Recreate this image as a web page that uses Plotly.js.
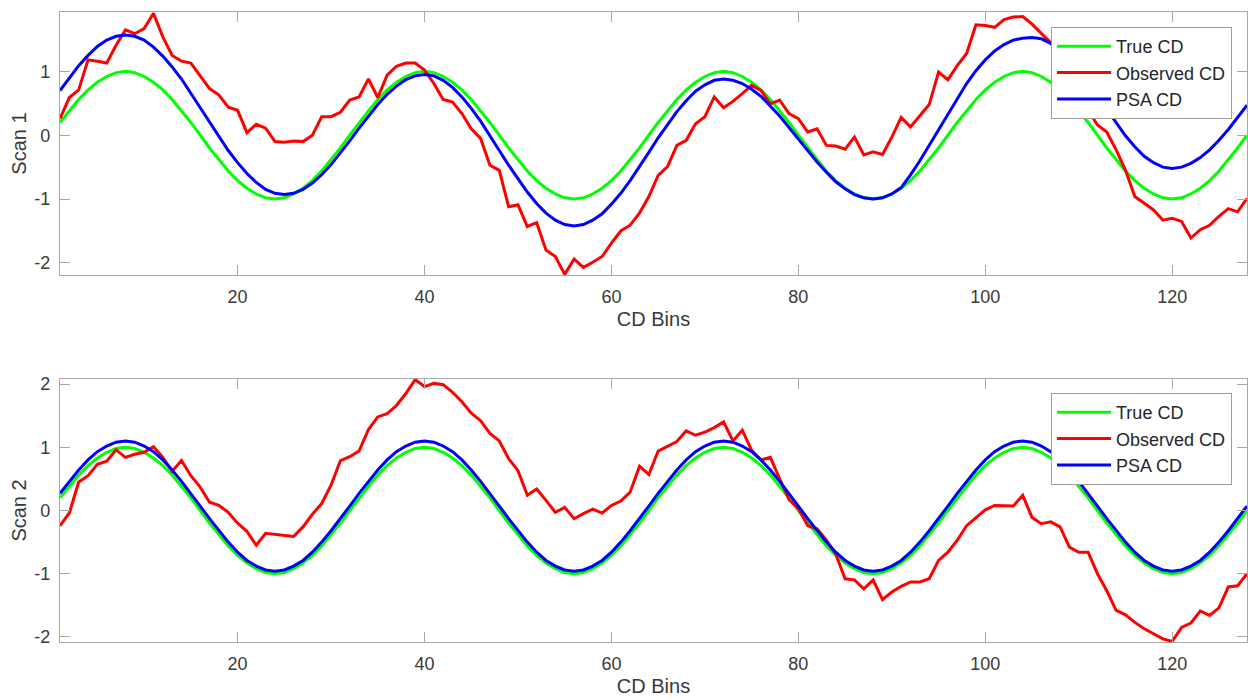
<!DOCTYPE html>
<html>
<head>
<meta charset="utf-8">
<script src="https://cdn.plot.ly/plotly-3.0.1.min.js"></script>
<style>html,body{margin:0;padding:0;background:#fff;}#chart{width:1248px;height:700px;}</style>
</head>
<body>
<div id="chart"></div>
<script>
var bins = [1,2,3,4,5,6,7,8,9,10,11,12,13,14,15,16,17,18,19,20,21,22,23,24,25,26,27,28,29,30,31,32,
33,34,35,36,37,38,39,40,41,42,43,44,45,46,47,48,49,50,51,52,53,54,55,56,57,58,59,60,61,62,63,64,
65,66,67,68,69,70,71,72,73,74,75,76,77,78,79,80,81,82,83,84,85,86,87,88,89,90,91,92,93,94,95,96,
97,98,99,100,101,102,103,104,105,106,107,108,109,110,111,112,113,114,115,116,117,118,119,120,121,122,123,124,125,126,127,128];

var xTicks = [20,40,60,80,100,120];
var xTickLabels = ['20','40','60','80','100','120'];
var yTicks1 = [-2,-1,0,1];
var yTickLabels1 = ['-2','-1','0','1'];
var yTicks2 = [-2,-1,0,1,2];
var yTickLabels2 = ['-2','-1','0','1','2'];
var seriesNames = ['True CD','Observed CD','PSA CD'];

var trueCD = [0.2,0.38,0.56,0.71,0.83,0.92,0.98,1,0.98,0.92,0.83,0.71,0.56,0.38,0.2,0,-0.2,-0.38,-0.56,-0.71,-0.83,-0.92,-0.98,-1,-0.98,-0.92,-0.83,-0.71,-0.56,-0.38,-0.2,0,
0.2,0.38,0.56,0.71,0.83,0.92,0.98,1,0.98,0.92,0.83,0.71,0.56,0.38,0.2,0,-0.2,-0.38,-0.56,-0.71,-0.83,-0.92,-0.98,-1,-0.98,-0.92,-0.83,-0.71,-0.56,-0.38,-0.2,0,
0.2,0.38,0.56,0.71,0.83,0.92,0.98,1,0.98,0.92,0.83,0.71,0.56,0.38,0.2,0,-0.2,-0.38,-0.56,-0.71,-0.83,-0.92,-0.98,-1,-0.98,-0.92,-0.83,-0.71,-0.56,-0.38,-0.2,0,
0.2,0.38,0.56,0.71,0.83,0.92,0.98,1,0.98,0.92,0.83,0.71,0.56,0.38,0.2,0,-0.2,-0.38,-0.56,-0.71,-0.83,-0.92,-0.98,-1,-0.98,-0.92,-0.83,-0.71,-0.56,-0.38,-0.2,0];

var observed1 = [0.26,0.59,0.71,1.18,1.16,1.13,1.41,1.65,1.59,1.67,1.91,1.54,1.25,1.16,1.13,0.92,0.73,0.63,0.44,0.39,0.04,0.17,0.11,-0.10,-0.11,-0.09,-0.10,0.00,0.29,0.29,0.36,0.55,
0.60,0.88,0.59,0.94,1.08,1.13,1.13,1.02,0.81,0.56,0.52,0.34,0.10,-0.05,-0.47,-0.55,-1.12,-1.09,-1.43,-1.37,-1.80,-1.90,-2.18,-1.94,-2.07,-1.99,-1.90,-1.69,-1.50,-1.41,-1.22,-0.96,
-0.63,-0.49,-0.16,-0.08,0.18,0.29,0.60,0.43,0.53,0.65,0.78,0.70,0.49,0.55,0.34,0.26,0.05,0.10,-0.16,-0.17,-0.22,-0.03,-0.31,-0.26,-0.30,-0.03,0.28,0.13,0.31,0.48,0.99,0.87,
1.09,1.28,1.73,1.72,1.69,1.81,1.85,1.86,1.74,1.59,1.45,1.22,0.95,0.65,0.39,0.16,0.05,-0.23,-0.55,-0.96,-1.07,-1.17,-1.33,-1.30,-1.35,-1.61,-1.48,-1.41,-1.27,-1.15,-1.20,-0.99];

var psa1 = [0.70,0.90,1.09,1.25,1.39,1.49,1.55,1.57,1.55,1.49,1.38,1.24,1.07,0.88,0.66,0.44,0.21,-0.02,-0.24,-0.43,-0.60,-0.74,-0.85,-0.91,-0.93,-0.91,-0.85,-0.75,-0.62,-0.46,-0.28,-0.09,
0.11,0.30,0.48,0.64,0.77,0.87,0.93,0.95,0.93,0.86,0.75,0.60,0.42,0.22,0.00,-0.24,-0.47,-0.69,-0.89,-1.07,-1.22,-1.33,-1.40,-1.42,-1.40,-1.33,-1.23,-1.08,-0.91,-0.71,-0.50,-0.27,
-0.04,0.17,0.37,0.54,0.69,0.79,0.86,0.88,0.86,0.81,0.72,0.61,0.46,0.30,0.12,-0.06,-0.24,-0.42,-0.58,-0.73,-0.84,-0.93,-0.98,-1.00,-0.98,-0.92,-0.82,-0.62,-0.40,-0.16,0.09,0.34,
0.58,0.81,1.01,1.18,1.32,1.42,1.49,1.52,1.53,1.51,1.44,1.34,1.19,1.02,0.82,0.61,0.40,0.19,-0.01,-0.18,-0.33,-0.43,-0.50,-0.52,-0.50,-0.44,-0.35,-0.23,-0.08,0.09,0.28,0.47];

var observed2 = [-0.24,-0.04,0.45,0.55,0.73,0.78,0.96,0.84,0.89,0.92,1.01,0.84,0.62,0.79,0.55,0.37,0.13,0.08,-0.03,-0.20,-0.33,-0.55,-0.36,-0.38,-0.40,-0.41,-0.26,-0.06,0.11,0.40,0.79,0.85,
0.94,1.28,1.48,1.53,1.66,1.85,2.07,1.96,2.01,1.99,1.87,1.72,1.54,1.42,1.22,1.10,0.82,0.63,0.24,0.34,0.16,-0.03,0.05,-0.13,-0.05,0.02,-0.04,0.08,0.15,0.29,0.70,0.57,
0.94,1.01,1.09,1.26,1.19,1.24,1.31,1.40,1.10,1.27,0.95,0.80,0.84,0.50,0.17,0.03,-0.24,-0.29,-0.47,-0.69,-1.08,-1.10,-1.24,-1.10,-1.41,-1.29,-1.20,-1.13,-1.13,-1.08,-0.79,-0.66,
-0.47,-0.24,-0.11,0.01,0.08,0.07,0.07,0.24,-0.11,-0.21,-0.18,-0.26,-0.58,-0.66,-0.66,-1.00,-1.27,-1.58,-1.65,-1.77,-1.87,-1.95,-2.03,-2.07,-1.85,-1.78,-1.59,-1.66,-1.54,-1.21,-1.19,-1.00];

var psa2 = [0.27,0.46,0.64,0.80,0.93,1.02,1.08,1.10,1.08,1.02,0.93,0.80,0.64,0.46,0.27,0.07,-0.13,-0.32,-0.50,-0.66,-0.79,-0.88,-0.94,-0.96,-0.94,-0.88,-0.79,-0.66,-0.50,-0.32,-0.13,0.07,
0.27,0.46,0.64,0.80,0.93,1.02,1.08,1.10,1.08,1.02,0.93,0.80,0.64,0.46,0.27,0.07,-0.13,-0.32,-0.50,-0.66,-0.79,-0.88,-0.94,-0.96,-0.94,-0.88,-0.79,-0.66,-0.50,-0.32,-0.13,0.07,
0.27,0.46,0.64,0.80,0.93,1.02,1.08,1.10,1.08,1.02,0.93,0.80,0.64,0.46,0.27,0.07,-0.13,-0.32,-0.50,-0.66,-0.79,-0.88,-0.94,-0.96,-0.94,-0.88,-0.79,-0.66,-0.50,-0.32,-0.13,0.07,
0.27,0.46,0.64,0.80,0.93,1.02,1.08,1.10,1.08,1.02,0.93,0.80,0.64,0.46,0.27,0.07,-0.13,-0.32,-0.50,-0.66,-0.79,-0.88,-0.94,-0.96,-0.94,-0.88,-0.79,-0.66,-0.50,-0.32,-0.13,0.07];

var colors = ['#00ff00','#ff0000','#0000ff'];
var FONT = 'Arial, "Liberation Sans", Helvetica, sans-serif';
var LINEW = 3;

function tr(y, i, xa, ya, leg) {
  return {x: bins, y: y, type: 'scatter', mode: 'lines', name: seriesNames[i],
    xaxis: xa, yaxis: ya, legend: leg, showlegend: true,
    line: {color: colors[i], width: LINEW}, hoverinfo: 'skip'};
}

var data = [
  tr(trueCD, 0, 'x', 'y', 'legend'),
  tr(observed1, 1, 'x', 'y', 'legend'),
  tr(psa1, 2, 'x', 'y', 'legend'),
  tr(trueCD, 0, 'x2', 'y2', 'legend2'),
  tr(observed2, 1, 'x2', 'y2', 'legend2'),
  tr(psa2, 2, 'x2', 'y2', 'legend2')
];

var axisCol = '#a8a8a8';
var textCol = '#3a3a3a';
function xax(anchor) {
  return {anchor: anchor, domain: [0,1], range: [1,128], tickvals: xTicks, ticktext: xTickLabels,
    ticks: 'inside', ticklen: 10,
    tickcolor: axisCol, tickwidth: 1, showline: true, linecolor: axisCol, linewidth: 1.2, mirror: 'ticks',
    showgrid: false, zeroline: false, automargin: false, ticklabelstandoff: 5,
    tickfont: {family: FONT, size: 18, color: textCol},
    title: {text: 'CD Bins', font: {family: FONT, size: 20, color: textCol}, standoff: 6}};
}
function yax(anchor, dom, rng, tv, tt, ttl) {
  return {anchor: anchor, domain: dom, range: rng, tickvals: tv, ticktext: tt, ticks: 'inside', ticklen: 10,
    tickcolor: axisCol, tickwidth: 1, showline: true, linecolor: axisCol, linewidth: 1.2, mirror: 'ticks',
    showgrid: false, zeroline: false, automargin: false, ticklabelstandoff: 5,
    tickfont: {family: FONT, size: 18, color: textCol},
    title: {text: ttl, font: {family: FONT, size: 20, color: textCol}, standoff: 2}};
}
function leg(y) {
  return {x: 0.9874, xanchor: 'right', y: y, yanchor: 'top', bgcolor: '#ffffff',
    bordercolor: '#a0a0a0', borderwidth: 1, itemwidth: 54,
    font: {family: FONT, size: 18, color: '#262626'}, tracegroupgap: 0};
}

var layout = {
  width: 1248, height: 700,
  margin: {l: 60, r: 1, t: 12, b: 58},
  paper_bgcolor: '#ffffff', plot_bgcolor: '#ffffff',
  showlegend: true,
  xaxis: xax('y'),
  yaxis: yax('x', [0.5825, 1], [-2.19, 1.93], yTicks1, yTickLabels1, 'Scan 1'),
  xaxis2: xax('y2'),
  yaxis2: yax('x2', [0, 0.4175], [-2.08, 2.08], yTicks2, yTickLabels2, 'Scan 2'),
  legend: leg(0.9762),
  legend2: leg(0.3953)
};

Plotly.newPlot('chart', data, layout, {staticPlot: true, displayModeBar: false});
</script>
</body>
</html>
